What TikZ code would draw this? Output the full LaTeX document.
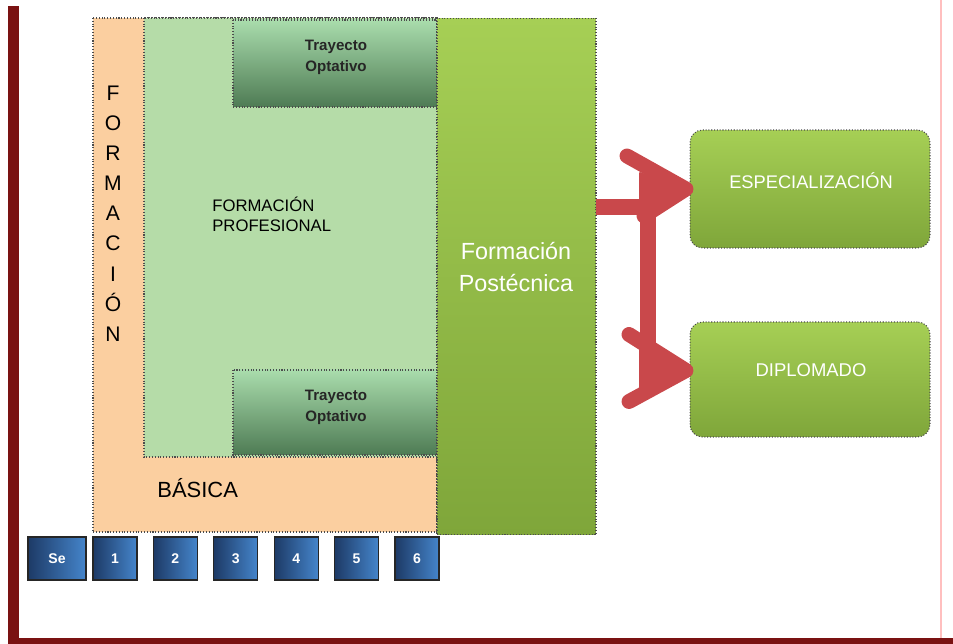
\documentclass[tikz,border=0pt]{standalone}
\usepackage{fontspec}
\setmainfont{Liberation Sans}
\usetikzlibrary{calc}

\definecolor{framered}{HTML}{7A1212}
\definecolor{peach}{HTML}{FBCFA0}
\definecolor{palegreen}{HTML}{B5DCA8}
\definecolor{optlight}{HTML}{A9DCAC}
\definecolor{optdark}{HTML}{4E7B54}
\definecolor{leaftop}{HTML}{A6CF55}
\definecolor{leafbot}{HTML}{7FA63A}
\definecolor{navy}{HTML}{1D3A66}
\definecolor{skyblue}{HTML}{4585CB}
\definecolor{arrowred}{HTML}{C9484B}

\begin{document}
\begin{tikzpicture}[x=0.02cm, y=-0.02cm,
  edge/.style={draw=black!70, densely dotted, line width=0.6pt},
  optbox/.style={edge, top color=optlight, bottom color=optdark},
  leafbox/.style={edge, top color=leaftop, bottom color=leafbot, inner sep=0, outer sep=0},
  semester/.style={draw=black!85, line width=0.6pt, left color=navy, right color=skyblue,
    minimum width=0.88cm, minimum height=0.86cm, inner sep=0, text=white,
    font=\fontsize{8}{9}\selectfont\bfseries},
  redbar/.style={draw=arrowred, line width=9.5pt},
  redhead/.style={draw=arrowred, line width=8.5pt, line cap=round, line join=round},
  redwedge/.style={draw=arrowred, fill=arrowred, line width=1pt, line join=round}]

\useasboundingbox (0,0) rectangle (953,644);

% formacion basica y profesional
\draw[edge, fill=peach] (93,18) rectangle (437,532);
\draw[edge, fill=palegreen] (144,18) rectangle (437,457);
\draw[optbox] (233,20) rectangle (437,107);
\draw[optbox] (233,370) rectangle (437,455);
\node[font=\fontsize{8.6}{12}\selectfont\bfseries, text=black!85, align=center] (opttop) at (336,57) {Trayecto\\Optativo};
\node[font=\fontsize{8.6}{12}\selectfont\bfseries, text=black!85, align=center] (optbot) at (336,407) {Trayecto\\Optativo};
\node[font=\fontsize{12}{17.15}\selectfont, align=center, inner sep=0] (formv) at (113,213.5) {F\\O\\R\\M\\A\\C\\I\\Ó\\N};
\node[font=\fontsize{9.5}{11.5}\selectfont, align=left, anchor=west, inner sep=0] (prof) at (212,214) {FORMACIÓN\\PROFESIONAL};
\node[font=\fontsize{12.5}{14}\selectfont, anchor=west, inner sep=0] (basica) at (157,488) {BÁSICA};

% postecnica y salidas
\node[leafbox, minimum width=3.18cm, minimum height=10.34cm] (post) at (516.5,276.5) {};
\node[font=\fontsize{13.3}{18}\selectfont, text=white, align=center] (posttxt) at (516,267) {Formación\\Postécnica};
\node[leafbox, rounded corners=0.25cm, minimum width=4.8cm, minimum height=2.36cm] (esp) at (810,189) {};
\node[font=\fontsize{10.4}{12}\selectfont, text=white] (esptxt) at (811,181) {ESPECIALIZACIÓN};
\node[leafbox, rounded corners=0.25cm, minimum width=4.8cm, minimum height=2.3cm] (dip) at (810,379.5) {};
\node[font=\fontsize{10.5}{12}\selectfont, text=white] (diptxt) at (811,370) {DIPLOMADO};

% semestres
\node[semester, minimum width=1.16cm] (se) at (57,558.5) {Se};
\foreach \i in {1,...,6}
  \node[semester] (s\i) at ({115+(\i-1)*60.4},558.5) {\i};

% flechas
\coordinate (jn) at (648,207);
\draw[redbar] (jn -| post.east) -- (jn);
\draw[redbar] ($(jn)+(0,-12)$) -- (jn |- diptxt);
\draw[redhead] ($(esp.west)+(-63,-33)$) -- ($(esp.west)+(-4,0)$) -- ($(esp.west)+(-46,27)$);
\draw[redwedge] ($(esp.west)+(-50,-16)$) -- ($(esp.west)+(-6,0)$) -- ($(esp.west)+(-50,24)$) -- cycle;
\draw[redhead] ($(dip.west)+(-61,-45)$) -- ($(dip.west)+(-4,-9)$) -- ($(dip.west)+(-61,22)$);
\draw[redwedge] ($(dip.west)+(-50,-30)$) -- ($(dip.west)+(-6,-9)$) -- ($(dip.west)+(-50,14)$) -- cycle;

% marco
\fill[framered] (8,6) rectangle (19,644);
\fill[framered] (8,638) rectangle (953,644);
\draw[red!25, line width=1.2pt] (941,0) -- (941,638);

\end{tikzpicture}
\end{document}
